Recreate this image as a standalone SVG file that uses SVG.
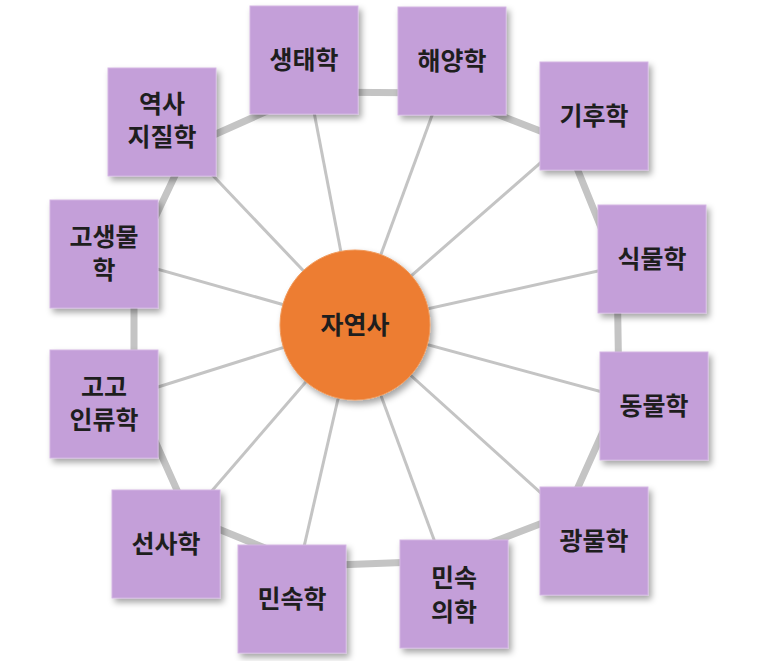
<svg xmlns="http://www.w3.org/2000/svg" width="758" height="661" viewBox="0 0 758 661">
<defs>
<filter id="sh" x="-20%" y="-20%" width="150%" height="150%"><feDropShadow dx="3" dy="4" stdDeviation="3" flood-color="#000" flood-opacity="0.35"/></filter>
<style>
.b{fill:#c49fd9;stroke:#d3b6e3;stroke-width:1;filter:url(#sh)}
.t{font-family:"Noto Sans CJK KR","Noto Sans",sans-serif;font-size:25px;fill:#1e1e1e;text-anchor:middle;font-weight:700}
.ring{fill:none;stroke:#c4c4c4;stroke-width:7;stroke-linejoin:round}
.sp{stroke:#c4c4c4;stroke-width:3}
</style>
</defs>
<rect width="758" height="661" fill="#fff"/>
<g id="connectors">
<polygon class="ring" points="310,92 442,93 566,141 617,267 619,396 566,514 443,561 309,566 189,517 134,394 134,262 189,146"/>
<g class="sp">
<line x1="355" y1="325" x2="304" y2="60"/><line x1="355" y1="325" x2="452" y2="61"/>
<line x1="355" y1="325" x2="594" y2="116"/><line x1="355" y1="325" x2="652" y2="259"/>
<line x1="355" y1="325" x2="654" y2="406"/><line x1="355" y1="325" x2="594" y2="541"/>
<line x1="355" y1="325" x2="454" y2="594"/><line x1="355" y1="325" x2="292" y2="599"/>
<line x1="355" y1="325" x2="166" y2="544"/><line x1="355" y1="325" x2="104" y2="404"/>
<line x1="355" y1="325" x2="104" y2="254"/><line x1="355" y1="325" x2="162" y2="122"/>
</g>
</g>
<g id="n1"><rect class="b" x="250" y="6" width="108" height="108"/><text class="t" x="304" y="69">생태학</text></g>
<g id="n2"><rect class="b" x="398" y="7" width="108" height="108"/><text class="t" x="452" y="70">해양학</text></g>
<g id="n3"><rect class="b" x="540" y="62" width="108" height="108"/><text class="t" x="594" y="125">기후학</text></g>
<g id="n4"><rect class="b" x="598" y="205" width="108" height="108"/><text class="t" x="652" y="268">식물학</text></g>
<g id="n5"><rect class="b" x="600" y="352" width="108" height="108"/><text class="t" x="654" y="415">동물학</text></g>
<g id="n6"><rect class="b" x="540" y="487" width="108" height="108"/><text class="t" x="594" y="550">광물학</text></g>
<g id="n7"><rect class="b" x="400" y="540" width="108" height="108"/><text class="t" x="454" y="587">민속</text><text class="t" x="454" y="621">의학</text></g>
<g id="n8"><rect class="b" x="238" y="545" width="108" height="108"/><text class="t" x="292" y="608">민속학</text></g>
<g id="n9"><rect class="b" x="112" y="490" width="108" height="108"/><text class="t" x="166" y="553">선사학</text></g>
<g id="n10"><rect class="b" x="50" y="350" width="108" height="108"/><text class="t" x="104" y="396">고고</text><text class="t" x="104" y="429">인류학</text></g>
<g id="n11"><rect class="b" x="50" y="200" width="108" height="108"/><text class="t" x="104" y="246">고생물</text><text class="t" x="104" y="279">학</text></g>
<g id="n12"><rect class="b" x="108" y="68" width="108" height="108"/><text class="t" x="162" y="113">역사</text><text class="t" x="162" y="146">지질학</text></g>
<g id="center"><circle cx="355" cy="325" r="75" fill="#ed7d31" stroke="#f09a5c" stroke-width="1" filter="url(#sh)"/><text class="t" x="355" y="334">자연사</text></g>
</svg>
